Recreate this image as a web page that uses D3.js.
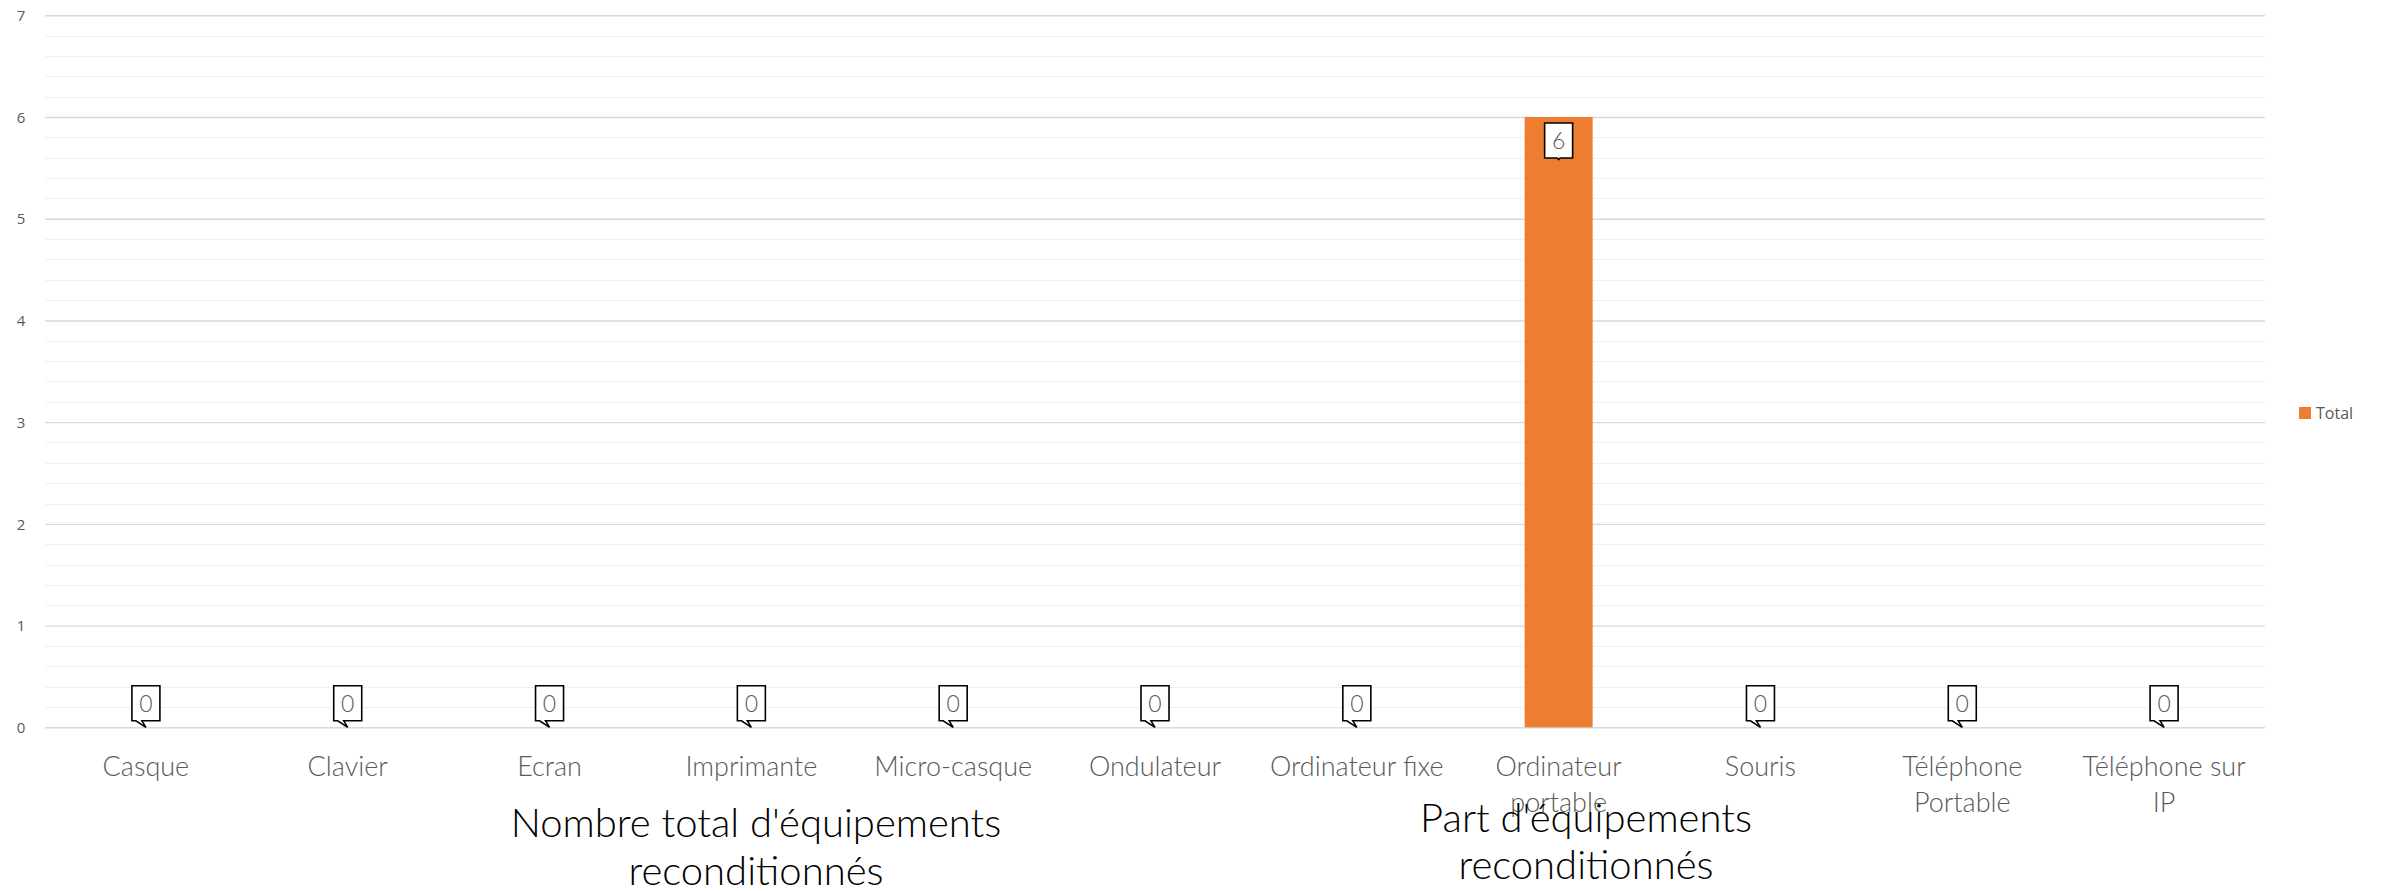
<!DOCTYPE html>
<html>
<head>
<meta charset="utf-8">
<script src="https://cdn.jsdelivr.net/npm/d3@7"></script>
<style>
  html, body { margin: 0; padding: 0; background: #ffffff; }
  svg { display: block; }
</style>
</head>
<body>
<svg id="chart" width="2384" height="891"></svg>
<script>
// ---- Data ----
const categories = ["Casque", "Clavier", "Ecran", "Imprimante", "Micro-casque", "Ondulateur",
  "Ordinateur fixe", "Ordinateur portable", "Souris", "Téléphone Portable", "Téléphone sur IP"];
const totals = [0, 0, 0, 0, 0, 0, 0, 6, 0, 0, 0];
const yTicks = [0, 1, 2, 3, 4, 5, 6, 7];
const seriesName = "Total";
const titles = [["Nombre total d'équipements", "reconditionnés"], ["Part d'équipements", "reconditionnés"]];

// ---- Layout ----
const svg = d3.select("#chart");
const plot = { left: 45, right: 2265, top: 15.3, bottom: 727.3 };
const x = d3.scaleBand().domain(categories).range([plot.left, plot.right]).paddingInner(0.663).paddingOuter(0.3315);
const y = d3.scaleLinear().domain([0, 7]).range([plot.bottom, plot.top]);
const labelFont = "'Lato', 'Open Sans', sans-serif";

// minor gridlines
const minor = d3.range(0, 7.0001, 0.2).filter(v => Math.abs(v - Math.round(v)) > 1e-6);
svg.append("g").selectAll("line").data(minor).join("line")
  .attr("x1", plot.left).attr("x2", plot.right)
  .attr("y1", d => Math.round(y(d)) + 0.5).attr("y2", d => Math.round(y(d)) + 0.5)
  .attr("stroke", "#f0f0f0").attr("stroke-width", 1.2);

// major gridlines + y axis
const yAxis = d3.axisLeft(y).tickValues(yTicks).tickSize(-(plot.right - plot.left)).tickPadding(15).tickFormat(d3.format("d"));
const gy = svg.append("g").attr("transform", `translate(${plot.left},0)`).call(yAxis);
gy.select(".domain").remove();
gy.selectAll(".tick line").attr("stroke", "#d9d9d9").attr("stroke-width", 1.4);
gy.selectAll(".tick text").attr("fill", "#595959").attr("font-family", "'Open Sans', 'Liberation Sans', sans-serif")
  .attr("font-size", 15).attr("x", -24).attr("dy", "0.35em").attr("text-anchor", "middle");

// bars
svg.append("g").selectAll("rect").data(totals).join("rect")
  .attr("x", (d, i) => x(categories[i]))
  .attr("width", x.bandwidth())
  .attr("y", d => y(d))
  .attr("height", d => y(0) - y(d))
  .attr("fill", "#ED7D31");

// data label callouts
const bw = 28, bh = 35;
const lab = svg.append("g").selectAll("g").data(totals).join("g");
lab.append("path")
  .attr("d", (d, i) => {
    const cx = x(categories[i]) + x.bandwidth() / 2;
    if (d === 0) {
      const l = cx - bw / 2, b = y(0) - 6.5, t = b - bh;
      return `M${l},${t} H${l + bw} V${b} H${l + 10} L${cx},${y(0)} L${l + 4},${b} H${l} Z`;
    } else {
      const l = cx - bw / 2, t = y(d) + 6, b = t + bh;
      return `M${l},${t} H${l + bw} V${b} H${cx + 1.5} L${cx},${b + 1.5} L${cx - 1.5},${b} H${l} Z`;
    }
  })
  .attr("fill", "#ffffff").attr("stroke", "#000000").attr("stroke-width", 1.6);
lab.append("text")
  .attr("x", (d, i) => x(categories[i]) + x.bandwidth() / 2)
  .attr("y", d => d === 0 ? y(0) - 6.5 - bh / 2 : y(d) + 6 + bh / 2)
  .attr("dy", "0.36em")
  .attr("text-anchor", "middle")
  .attr("font-family", labelFont).attr("font-weight", 300)
  .attr("font-size", 23).attr("fill", "#595959")
  .text(d => d);

// x axis category labels (wrapped)
const maxW = 184;
const xl = svg.append("g").selectAll("text").data(categories).join("text")
  .attr("x", d => x(d) + x.bandwidth() / 2)
  .attr("y", 776)
  .attr("text-anchor", "middle")
  .attr("font-family", labelFont).attr("font-weight", 300)
  .attr("font-size", 27).attr("fill", "#595959");
xl.each(function (d) {
  const t = d3.select(this);
  const words = d.split(" ");
  let lines = [], cur = [];
  const probe = t.append("tspan");
  words.forEach(w => {
    const test = cur.concat([w]).join(" ");
    probe.text(test);
    if (probe.node().getComputedTextLength() > maxW && cur.length) {
      lines.push(cur.join(" ")); cur = [w];
    } else cur.push(w);
  });
  lines.push(cur.join(" "));
  probe.remove();
  lines.forEach((ln, k) => t.append("tspan").attr("x", t.attr("x")).attr("dy", k === 0 ? 0 : 36).text(ln));
});

// bottom titles
const titlePos = [{ x: 756, y: 837, gap: 48 }, { x: 1586, y: 832, gap: 47 }];
titles.forEach((lines, i) => {
  const t = svg.append("text")
    .attr("text-anchor", "middle")
    .attr("font-family", labelFont).attr("font-weight", 300)
    .attr("font-size", 40).attr("fill", "#000000");
  lines.forEach((ln, k) => t.append("tspan").attr("x", titlePos[i].x)
    .attr("y", titlePos[i].y + k * titlePos[i].gap).text(ln));
});

// legend
const lg = svg.append("g").attr("transform", "translate(2299,407)");
lg.append("rect").attr("width", 12).attr("height", 12).attr("fill", "#ED7D31");
lg.append("text").attr("x", 17).attr("y", 6).attr("dy", "0.35em")
  .attr("font-family", "'Open Sans', 'Liberation Sans', sans-serif").attr("font-size", 16)
  .attr("fill", "#595959").text(seriesName);
</script>
</body>
</html>
